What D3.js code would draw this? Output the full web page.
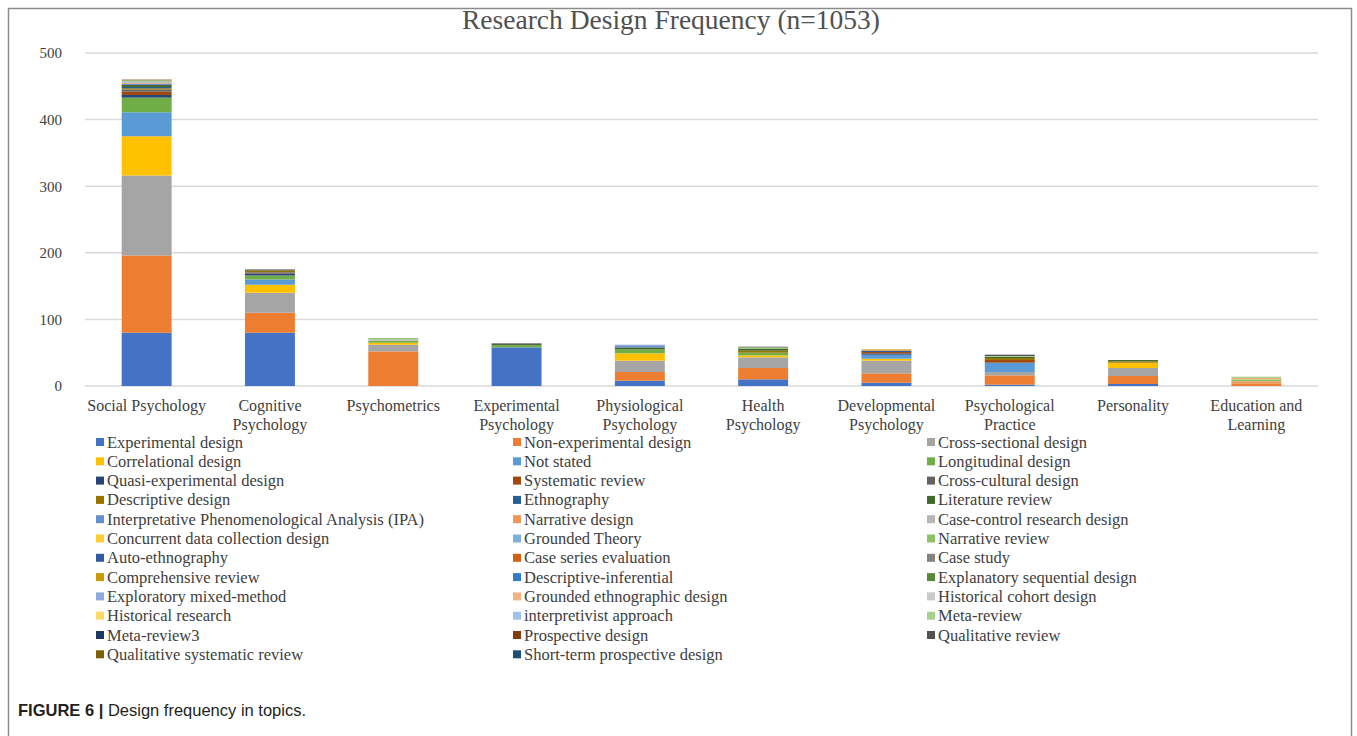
<!DOCTYPE html>
<html><head><meta charset="utf-8">
<script src="https://cdn.jsdelivr.net/npm/d3@7"></script>
<style>body{margin:0;background:#fff;}svg{display:block;}</style>
</head><body><svg id="c" width="1357" height="736"></svg>
<script>
const categories = ["Social Psychology","Cognitive Psychology","Psychometrics","Experimental Psychology","Physiological Psychology","Health Psychology","Developmental Psychology","Psychological Practice","Personality","Education and Learning"];
const categoryLines = [["Social Psychology"],["Cognitive","Psychology"],["Psychometrics"],["Experimental","Psychology"],["Physiological","Psychology"],["Health","Psychology"],["Developmental","Psychology"],["Psychological","Practice"],["Personality"],["Education and","Learning"]];
const seriesNames = ["Experimental design","Non-experimental design","Cross-sectional design","Correlational design","Not stated","Longitudinal design","Quasi-experimental design","Systematic review","Cross-cultural design","Descriptive design","Ethnography","Literature review","Interpretative Phenomenological Analysis (IPA)","Narrative design","Case-control research design","Concurrent data collection design","Grounded Theory","Narrative review","Auto-ethnography","Case series evaluation","Case study","Comprehensive review","Descriptive-inferential","Explanatory sequential design","Exploratory mixed-method","Grounded ethnographic design","Historical cohort design","Historical research","interpretivist approach","Meta-review","Meta-review3","Prospective design","Qualitative review","Qualitative systematic review","Short-term prospective design"];
const seriesColors = ["#4472C4","#ED7D31","#A5A5A5","#FFC000","#5B9BD5","#70AD47","#264478","#9E480E","#636363","#997300","#255E91","#43682B","#698ED0","#F1975A","#B7B7B7","#FFCD33","#7CAFDD","#8CC168","#335AA1","#D26012","#848484","#CC9A00","#327DC2","#5A8A39","#8FAADC","#F4B183","#C9C9C9","#FFD966","#9DC3E6","#A9D18E","#203864","#843C0C","#525252","#7F6000","#1F4E79"];
// values per series, in category order
const values = [
 [80,80,0,58,8,10,5,2,3,0],      // Experimental design
 [116,30,52,0,13,17,14,14,12,4], // Non-experimental design
 [120,30,10,0,17,16,19,5,12,0],  // Cross-sectional design
 [59,12,3,0,11,3,3,0,8,0],       // Correlational design
 [36,8,0,0,0,0,6,14,0,0],        // Not stated
 [22,6,3,3,6,4,0,0,0,0],         // Longitudinal design
 [4,3,0,0,0,0,2,0,0,0],          // Quasi-experimental design
 [5,1,0,0,0,0,2,4,0,0],          // Systematic review
 [3,1,0,0,0,0,0,0,0,0],          // Cross-cultural design
 [2,2,0,0,0,3,0,3,2,0],          // Descriptive design
 [2,0,0,0,0,0,2,0,0,0],          // Ethnography
 [3,1,0,2,3,3,0,2,2,0],          // Literature review
 [2,0,0,0,2,0,0,0,0,0],          // IPA
 [1,0,0,0,0,0,1,0,0,3],          // Narrative design
 [1,0,2,0,0,0,0,0,0,0],          // Case-control research design
 [0,0,0,0,0,0,0,0,0,0],          // Concurrent data collection design
 [1,0,0,0,0,0,0,0,0,0],          // Grounded Theory
 [1,0,2,0,0,2,0,0,0,3],          // Narrative review
 [0,0,0,0,0,0,0,0,0,0],          // Auto-ethnography
 [0,0,0,0,0,0,0,0,0,0],          // Case series evaluation
 [0,0,0,0,0,0,0,0,0,0],          // Case study
 [0,0,0,0,0,0,1,0,0,0],          // Comprehensive review
 [0,0,0,0,0,0,0,0,0,0],          // Descriptive-inferential
 [0,0,0,0,0,0,0,0,0,0],          // Explanatory sequential design
 [0,0,0,0,2,0,0,0,0,0],          // Exploratory mixed-method
 [0,0,0,0,0,0,0,0,0,2],          // Grounded ethnographic design
 [0,0,0,0,0,0,0,0,0,0],          // Historical cohort design
 [0,0,0,0,0,0,0,0,0,0],          // Historical research
 [0,0,0,0,0,0,0,0,0,0],          // interpretivist approach
 [1,0,0,0,0,0,0,1,0,2],          // Meta-review
 [0,0,0,0,0,0,0,0,0,0],          // Meta-review3
 [1,0,0,0,0,0,0,0,0,0],          // Prospective design
 [0,1,0,1,0,1,0,2,0,0],          // Qualitative review
 [0,0,0,0,0,0,0,0,0,0],          // Qualitative systematic review
 [0,0,0,0,0,0,0,0,0,0]           // Short-term prospective design
];
const yTicks = [0,100,200,300,400,500];
const titleText = "Research Design Frequency (n=1053)";

const svg = d3.select("#c");
const serif = "'Liberation Serif','Times New Roman',serif";

// outer frame
svg.append("path").attr("d","M8.5,745 V8.5 H1351.5 V745").attr("fill","none").attr("stroke","#8c8c8c").attr("stroke-width",1.5);

const x = d3.scaleBand().domain(categories).range([85,1318]).paddingInner(0.595).paddingOuter(0.2975);
const y = d3.scaleLinear().domain([0,500]).range([386,53]);

// gridlines
svg.append("g").selectAll("line").data(yTicks).join("line")
  .attr("x1",85).attr("x2",1318).attr("y1",d=>y(d)).attr("y2",d=>y(d))
  .attr("stroke","#d9d9d9").attr("stroke-width",1.5);

// y axis labels
const yAxis = d3.axisLeft(y).tickValues(yTicks).tickSize(0).tickPadding(0);
const ya = svg.append("g").attr("transform","translate(62,0)").call(yAxis);
ya.select(".domain").remove();
ya.selectAll("text").attr("font-family",serif).attr("font-size",15).attr("fill","#404040");

// stacked data
const rows = categories.map((c,i)=>{const o={cat:c}; seriesNames.forEach((s,j)=>o[s]=values[j][i]); return o;});
const stack = d3.stack().keys(seriesNames)(rows);
const color = d3.scaleOrdinal().domain(seriesNames).range(seriesColors);
svg.append("g").selectAll("g").data(stack).join("g").attr("fill",d=>color(d.key))
  .selectAll("rect").data(d=>d).join("rect")
  .attr("x",d=>x(d.data.cat)).attr("width",x.bandwidth())
  .attr("y",d=>y(d[1])).attr("height",d=>y(d[0])-y(d[1]));

// x labels
const xl = svg.append("g");
categories.forEach((c,i)=>{
  const t = xl.append("text").attr("x",x(c)+x.bandwidth()/2).attr("y",411)
    .attr("text-anchor","middle").attr("font-family",serif).attr("font-size",16).attr("fill","#404040");
  categoryLines[i].forEach((ln,k)=>t.append("tspan").attr("x",x(c)+x.bandwidth()/2).attr("dy",k?19:0).text(ln));
});

// title
svg.append("text").attr("x",671).attr("y",29).attr("text-anchor","middle")
  .attr("font-family",serif).attr("font-size",27.5).attr("fill","#505050").text(titleText);

// legend
const colX = [96,513,927];
const lg = svg.append("g");
seriesNames.forEach((s,i)=>{
  const col = i%3, row = Math.floor(i/3);
  const yy = 443 + row*19.3;
  lg.append("rect").attr("x",colX[col]).attr("y",yy-5).attr("width",8).attr("height",8).attr("fill",color(s));
  lg.append("text").attr("x",colX[col]+11).attr("y",yy+4.5).attr("font-family",serif).attr("font-size",16.5).attr("fill","#404040").text(s);
});

// caption
const cap = svg.append("text").attr("x",18).attr("y",716).attr("font-family","'Liberation Sans',Arial,sans-serif").attr("font-size",16.5).attr("fill","#231f20");
cap.append("tspan").attr("font-weight","bold").text("FIGURE 6 | ");
cap.append("tspan").text("Design frequency in topics.");
</script></body></html>
